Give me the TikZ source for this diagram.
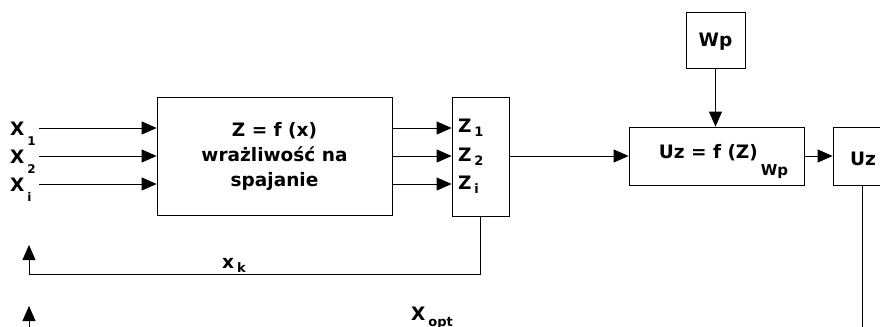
\documentclass[tikz,border=0pt]{standalone}
\usepackage{fontspec}
\setmainfont{DejaVu Sans}
\usetikzlibrary{arrows.meta}
\newcommand{\lsub}[3]{\hspace{3bp}\raisebox{-#1bp}{\fontsize{#2bp}{#2bp}\selectfont #3}}
\tikzset{
  x=1bp, y=-1bp,
  every node/.style={font=\fontsize{18.5bp}{25bp}\selectfont\bfseries, inner sep=0pt},
  box/.style={draw, line width=0.8bp},
  arr/.style={line width=0.8bp, -{Triangle[length=15bp,width=13bp]}},
  ln/.style={line width=0.8bp},
  lbl/.style={anchor=base west}
}
\begin{document}
\begin{tikzpicture}
\useasboundingbox (0,0) rectangle (880,326);
% boxes
\node[box, minimum width=235bp, minimum height=118bp, align=center] (f) at (274.5,156)
  {Z = f (x)\\wrażliwość na\\spajanie};
\node[box, minimum width=57bp, minimum height=119bp, text width=45bp, inner xsep=6bp, align=left,
  font=\fontsize{18.5bp}{28.5bp}\selectfont\bfseries] (z) at (480.5,156.5)
  {Z\lsub{4}{13}{1}\\Z\lsub{4}{13}{2}\\Z\lsub{4}{13}{i}};
\node[box, minimum width=59bp, minimum height=56bp, text height=13.5bp, text depth=0bp] (wp) at (715.5,40) {Wp};
\node[box, minimum width=175bp, minimum height=58bp, text height=13.5bp, text depth=9.5bp] (uf) at (716.5,156)
  {\hspace*{14bp}Uz = f (Z)\lsub{17}{15}{Wp}};
\node[box, minimum height=58bp, text width=50bp, inner xsep=17bp, align=left, text height=18bp, text depth=0bp] (uz) at (875,156) {Uz};
% input labels
\node[lbl] (x1) at (10,135) {X\lsub{10}{12}{1}};
\node[lbl] (x2) at (10,163) {X\lsub{10}{12}{2}};
\node[lbl] (xi) at (10,191) {X\lsub{10}{12}{i}};
\node[lbl] (xk) at (222,268) {x\lsub{4}{13}{k}};
\node[lbl] (xopt) at (411,320) {X\lsub{6}{13}{opt}};
% input arrows
\coordinate (s1) at (39,128);
\coordinate (s2) at (39,156);
\coordinate (s3) at (39,184);
\draw[arr] (s1) -- (s1 -| f.west);
\draw[arr] (s2) -- (s2 -| f.west);
\draw[arr] (s3) -- (s3 -| f.west);
% outputs to Z
\draw[arr] (f.east |- s1) -- (z.west |- s1);
\draw[arr] (f.east |- s2) -- (z.west |- s2);
\draw[arr] (f.east |- s3) -- (z.west |- s3);
% Z to Uz = f(Z)
\draw[arr] (z.east |- uf.west) -- (uf.west);
\draw[arr] (wp.south) -- (wp.south |- uf.north);
\draw[arr] (uf.east) -- (uz.west);
% Uz downwards
\coordinate (ud) at (862,330);
\draw[ln] (ud |- uz.south) -- (ud);
% feedback x_k
\coordinate (fbc) at (29,274);
\coordinate (fbt) at (29,245);
\draw[arr] (z.south) |- (fbc) -- (fbt);
% x_opt arrow
\coordinate (ob) at (29,330);
\coordinate (ot) at (29,306);
\draw[arr] (ob) -- (ot);
\end{tikzpicture}
\end{document}
